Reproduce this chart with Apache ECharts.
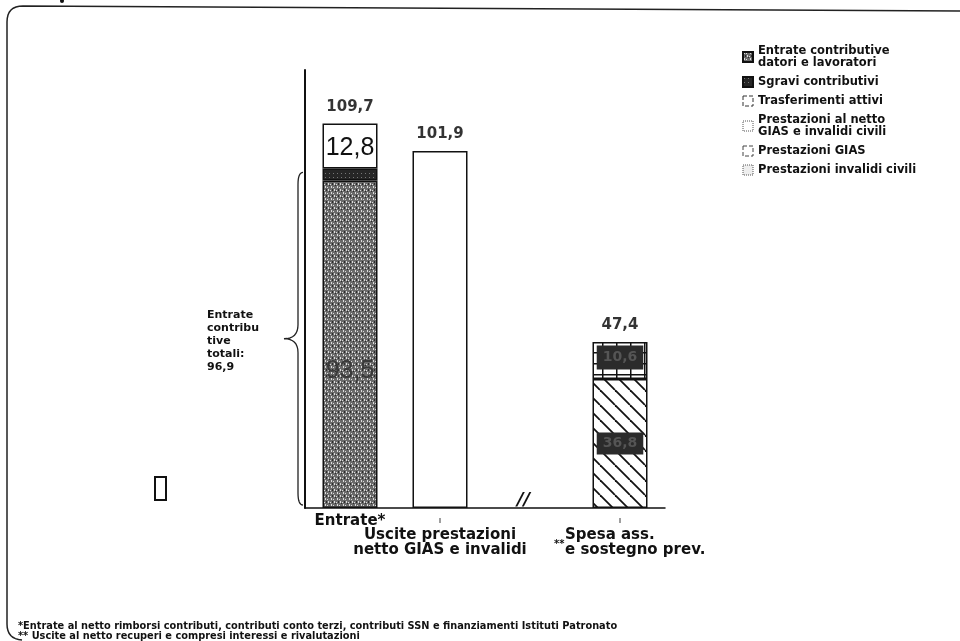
<!DOCTYPE html>
<html>
<head>
<meta charset="utf-8">
<script src="https://cdn.jsdelivr.net/npm/echarts@6/dist/echarts.min.js"></script>
<style>
  html, body { margin: 0; padding: 0; background: #fff; }
  #main { width: 960px; height: 641px; }
</style>
</head>
<body>
<div id="main"></div>
<script>
// dati (miliardi di euro)
const categorie = ['Entrate*', 'Uscite prestazioni\nnetto GIAS e invalidi', '', 'Spesa ass.\ne sostegno prev.'];
const entrateContributive = [93.5, '-', '-', '-'];
const sgraviContributivi = [3.4, '-', '-', '-'];
const trasferimentiAttivi = [12.8, '-', '-', '-'];
const prestazioniNetto = ['-', 101.9, '-', '-'];
const prestazioniGias = ['-', '-', '-', 36.8];
const prestazioniInvalidi = ['-', '-', '-', 10.6];
const totali = [109.7, 101.9, '-', 47.4];
const totaleContributi = 96.9;

const FONT = 'DejaVu Sans';
const fmt = v => Number(v).toFixed(1).replace('.', ',');

// pattern di riempimento
function tile(w, h, draw) {
  const c = document.createElement('canvas');
  c.width = w; c.height = h;
  draw(c.getContext('2d'));
  return { image: c, repeat: 'repeat' };
}
const pEntrate = tile(6, 6, g => {
  g.fillStyle = '#6a6a6a'; g.fillRect(0, 0, 6, 6);
  g.fillStyle = '#dcdcdc';
  g.fillRect(1, 0, 1, 2); g.fillRect(4, 3, 1, 2); g.fillRect(3, 1, 1, 1);
  g.fillRect(0, 4, 1, 1);
  g.fillStyle = '#2c2c2c'; g.fillRect(2, 3, 1, 2); g.fillRect(5, 5, 1, 1);
});
const pSgravi = tile(4, 4, g => {
  g.fillStyle = '#262626'; g.fillRect(0, 0, 4, 4);
  g.fillStyle = '#777'; g.fillRect(1, 1, 1, 1);
});
const pHatch = tile(15, 15, g => {
  g.fillStyle = '#fff'; g.fillRect(0, 0, 15, 15);
  g.strokeStyle = '#111'; g.lineWidth = 1.8;
  [-15, 0, 15].forEach(o => { g.beginPath(); g.moveTo(o, 0); g.lineTo(o + 15, 15); g.stroke(); });
});
const pGrid = tile(14, 11, g => {
  g.fillStyle = '#fff'; g.fillRect(0, 0, 14, 11);
  g.fillStyle = '#111'; g.fillRect(0, 0, 14, 1.5); g.fillRect(0, 0, 1.5, 11);
});

const bordo = { borderColor: '#111', borderWidth: 1.5 };
const darkLabel = {
  show: true, position: 'inside', formatter: p => fmt(p.value),
  backgroundColor: '#2b2b2b', color: '#555', fontFamily: FONT, fontWeight: 'bold', fontSize: 14, padding: [4, 6]
};

var chart = echarts.init(document.getElementById('main'));
var option = {
  animation: false,
  grid: { left: 305, right: 295, top: 70, bottom: 133 },
  xAxis: {
    type: 'category',
    data: categorie,
    axisLine: { lineStyle: { color: '#111', width: 1.5 } },
    axisTick: { show: false },
    axisLabel: {
      margin: 6,
      interval: 0,
      formatter: (v, i) => {
        if (!v) return '';
        const righe = v.split('\n');
        if (i === 0) return '{b|' + righe[0] + '}';
        const st = i === 3 ? 'l' : 'b';
        return '{t|ı}\n' + righe.map(r => '{' + st + '|' + r + '}').join('\n');
      },
      rich: {
        t: { fontSize: 9, lineHeight: 14, color: '#111', fontFamily: FONT },
        b: { fontSize: 15, lineHeight: 15, fontWeight: 'bold', color: '#111', fontFamily: FONT },
        l: { fontSize: 15, lineHeight: 15, fontWeight: 'bold', color: '#111', fontFamily: FONT, width: 110, align: 'left' }
      }
    }
  },
  yAxis: {
    type: 'value', min: 0, max: 125,
    axisLine: { show: true, lineStyle: { color: '#111', width: 2 } },
    axisTick: { show: false }, axisLabel: { show: false }, splitLine: { show: false }
  },
  legend: {
    orient: 'vertical', left: 737, top: 40, itemWidth: 10, itemHeight: 10, itemGap: 7,
    selectedMode: false,
    textStyle: { fontFamily: FONT, fontWeight: 'bold', fontSize: 11.5, lineHeight: 12, color: '#111' },
    data: [
      { name: 'Entrate contributive\ndatori e lavoratori', icon: 'rect' },
      { name: 'Sgravi contributivi', icon: 'rect' },
      { name: 'Trasferimenti attivi', icon: 'rect', itemStyle: { color: '#fff', borderColor: '#333', borderWidth: 1, borderType: 'dashed' } },
      { name: 'Prestazioni al netto\nGIAS e invalidi civili', icon: 'rect', itemStyle: { color: '#fff', borderColor: '#555', borderWidth: 1, borderType: 'dotted' } },
      { name: 'Prestazioni GIAS', icon: 'rect', itemStyle: { color: '#fff', borderColor: '#444', borderWidth: 1, borderType: 'dashed' } },
      { name: 'Prestazioni invalidi civili', icon: 'rect', itemStyle: { color: '#eee', borderColor: '#555', borderWidth: 1, borderType: 'dotted' } }
    ]
  },
  series: [
    {
      name: 'Entrate contributive\ndatori e lavoratori', type: 'bar', stack: 'a', barWidth: 55,
      data: entrateContributive, itemStyle: Object.assign({ color: pEntrate }, bordo),
      label: { show: true, position: 'inside', offset: [0, 27], formatter: p => fmt(p.value),
        fontFamily: 'Liberation Sans', fontSize: 25, color: '#3a3a3a' }
    },
    {
      name: 'Sgravi contributivi', type: 'bar', stack: 'a', barWidth: 55,
      data: sgraviContributivi, itemStyle: Object.assign({ color: pSgravi }, bordo)
    },
    {
      name: 'Trasferimenti attivi', type: 'bar', stack: 'a', barWidth: 55,
      data: trasferimentiAttivi, itemStyle: Object.assign({ color: '#fff' }, bordo),
      label: { show: true, position: 'inside', offset: [0, 2], formatter: p => fmt(p.value),
        fontFamily: 'Liberation Sans', fontSize: 25, color: '#111' }
    },
    {
      name: 'Prestazioni al netto\nGIAS e invalidi civili', type: 'bar', stack: 'a', barWidth: 55,
      data: prestazioniNetto, itemStyle: Object.assign({ color: '#fff' }, bordo)
    },
    {
      name: 'Prestazioni GIAS', type: 'bar', stack: 'a', barWidth: 55,
      data: prestazioniGias, itemStyle: Object.assign({ color: pHatch }, bordo),
      label: darkLabel
    },
    {
      name: 'Prestazioni invalidi civili', type: 'bar', stack: 'a', barWidth: 55,
      data: prestazioniInvalidi, itemStyle: Object.assign({ color: pGrid }, bordo),
      label: Object.assign({}, darkLabel, { offset: [0, -3], padding: [5, 6] })
    },
    {
      name: 'totale', type: 'scatter', data: totali, symbolSize: 0.1,
      itemStyle: { color: '#fff' },
      label: { show: true, position: 'top', distance: 9, formatter: p => fmt(p.value),
        fontFamily: FONT, fontWeight: 'bold', fontSize: 15, color: '#000' }
    }
  ]
};
chart.setOption(option);

// annotazioni: graffa, interruzione asse, note
function quad(p0, p1, p2, n) {
  const pts = [];
  for (let k = 0; k <= n; k++) {
    const t = k / n, u = 1 - t;
    pts.push([u * u * p0[0] + 2 * u * t * p1[0] + t * t * p2[0], u * u * p0[1] + 2 * u * t * p1[1] + t * t * p2[1]]);
  }
  return pts;
}
const yTop = chart.convertToPixel({ yAxisIndex: 0 }, totaleContributi) + 4;
const yBot = chart.convertToPixel({ yAxisIndex: 0 }, 0) - 3;
const yMid = (yTop + yBot) / 2;
const xs = 298, xt = 284;
const xBreak = chart.convertToPixel({ xAxisIndex: 0 }, 2);

const graffa = [].concat(
  quad([xs + 5, yTop], [xs, yTop], [xs, yTop + 12], 8),
  quad([xs, yMid - 14], [xs, yMid], [xt, yMid], 8),
  quad([xt, yMid], [xs, yMid], [xs, yMid + 14], 8),
  quad([xs, yBot - 12], [xs, yBot], [xs + 5, yBot], 8)
);
const cornice = [].concat(
  quad([7, 624], [7, 639], [22, 640], 8).reverse(),
  quad([7, 22], [7, 6], [23, 6], 8),
  [[960, 11]]
);

chart.setOption({
  graphic: [
    {
      type: 'polyline', silent: true, shape: { points: cornice },
      style: { fill: null, stroke: '#222', lineWidth: 1.5 }
    },
    {
      type: 'circle', silent: true, shape: { cx: 62, cy: 1, r: 2 },
      style: { fill: '#111' }
    },
    {
      type: 'polyline', silent: true, shape: { points: graffa },
      style: { fill: null, stroke: '#222', lineWidth: 1.3 }
    },
    {
      type: 'text', left: 207, top: 309, silent: true,
      style: { text: 'Entrate\ncontribu\ntive\ntotali:\n' + fmt(totaleContributi), fontFamily: FONT, fontWeight: 'bold',
        fontSize: 11, lineHeight: 13, fill: '#111' }
    },
    {
      type: 'text', x: xBreak - 13, y: 491, silent: true,
      style: { text: '//', fontFamily: FONT, fontStyle: 'italic', fontWeight: 'bold', fontSize: 18, fill: '#111' }
    },
    {
      type: 'text', x: xBreak + 24, y: 539, silent: true,
      style: { text: '**', fontFamily: FONT, fontWeight: 'bold', fontSize: 10, fill: '#111' }
    },
    {
      type: 'rect', silent: true, shape: { x: 155, y: 477, width: 11, height: 23 },
      style: { fill: null, stroke: '#111', lineWidth: 2 }
    },
    {
      type: 'text', left: 18, top: 621, silent: true,
      style: { text: '*Entrate al netto rimborsi contributi, contributi conto terzi, contributi SSN e finanziamenti Istituti Patronato',
        fontFamily: FONT, fontWeight: 'bold', fontSize: 9.8, fill: '#111' }
    },
    {
      type: 'text', left: 18, top: 631, silent: true,
      style: { text: '** Uscite al netto recuperi e compresi interessi e rivalutazioni',
        fontFamily: FONT, fontWeight: 'bold', fontSize: 9.8, fill: '#111' }
    }
  ]
});
</script>
</body>
</html>
